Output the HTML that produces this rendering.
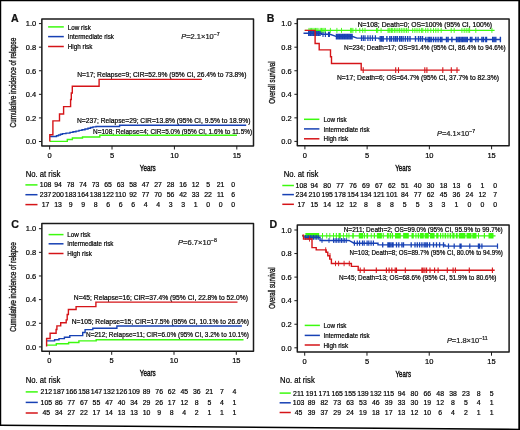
<!DOCTYPE html>
<html><head><meta charset="utf-8"><title>Figure</title>
<style>html,body{margin:0;padding:0;background:#fff;width:520px;height:430px;overflow:hidden}
svg{display:block;font-family:"Liberation Sans",sans-serif}
text{stroke:#222;stroke-width:0.22px;paint-order:stroke}</style></head>
<body>
<svg style="will-change:transform" width="520" height="430" viewBox="0 0 520 430" font-family="Liberation Sans, sans-serif">
<rect width="520" height="430" fill="#fff"/>
<text x="10.9" y="22" font-size="10.6" font-weight="bold" fill="#111">A</text>
<rect x="41.85" y="18.9" width="211.65" height="127" fill="none" stroke="#1a1a1a" stroke-width="1.5" stroke-linejoin="round"/>
<line x1="38.95" y1="141.5" x2="41.85" y2="141.5" stroke="#1a1a1a" stroke-width="1"/>
<text x="36.25" y="144.25" font-size="7.5" text-anchor="end" textLength="10.4" lengthAdjust="spacingAndGlyphs">0.0</text>
<line x1="38.95" y1="117.92" x2="41.85" y2="117.92" stroke="#1a1a1a" stroke-width="1"/>
<text x="36.25" y="120.67" font-size="7.5" text-anchor="end" textLength="10.4" lengthAdjust="spacingAndGlyphs">0.2</text>
<line x1="38.95" y1="94.34" x2="41.85" y2="94.34" stroke="#1a1a1a" stroke-width="1"/>
<text x="36.25" y="97.09" font-size="7.5" text-anchor="end" textLength="10.4" lengthAdjust="spacingAndGlyphs">0.4</text>
<line x1="38.95" y1="70.76" x2="41.85" y2="70.76" stroke="#1a1a1a" stroke-width="1"/>
<text x="36.25" y="73.51" font-size="7.5" text-anchor="end" textLength="10.4" lengthAdjust="spacingAndGlyphs">0.6</text>
<line x1="38.95" y1="47.18" x2="41.85" y2="47.18" stroke="#1a1a1a" stroke-width="1"/>
<text x="36.25" y="49.93" font-size="7.5" text-anchor="end" textLength="10.4" lengthAdjust="spacingAndGlyphs">0.8</text>
<line x1="38.95" y1="23.6" x2="41.85" y2="23.6" stroke="#1a1a1a" stroke-width="1"/>
<text x="36.25" y="26.35" font-size="7.5" text-anchor="end" textLength="10.4" lengthAdjust="spacingAndGlyphs">1.0</text>
<line x1="49.65" y1="145.9" x2="49.65" y2="149.5" stroke="#1a1a1a" stroke-width="1"/>
<text x="49.65" y="158" font-size="7.5" text-anchor="middle">0</text>
<line x1="112.03" y1="145.9" x2="112.03" y2="149.5" stroke="#1a1a1a" stroke-width="1"/>
<text x="112.03" y="158" font-size="7.5" text-anchor="middle">5</text>
<line x1="174.42" y1="145.9" x2="174.42" y2="149.5" stroke="#1a1a1a" stroke-width="1"/>
<text x="174.42" y="158" font-size="7.5" text-anchor="middle">10</text>
<line x1="236.8" y1="145.9" x2="236.8" y2="149.5" stroke="#1a1a1a" stroke-width="1"/>
<text x="236.8" y="158" font-size="7.5" text-anchor="middle">15</text>
<text transform="translate(16.2 82.6) rotate(-90)" font-size="8.3" text-anchor="middle" textLength="89.6" lengthAdjust="spacingAndGlyphs" fill="#222" style="stroke-width:0.4px">Cumulative incidence of relapse</text>
<text x="139.8" y="170.6" font-size="9.3" textLength="16" lengthAdjust="spacingAndGlyphs" style="stroke-width:0.4px">Years</text>
<line x1="48.1" y1="26.9" x2="63.8" y2="26.9" stroke="#3cfa0e" stroke-width="1.5"/>
<text x="67.8" y="29.5" font-size="6.6" textLength="23" lengthAdjust="spacingAndGlyphs">Low risk</text>
<line x1="48.1" y1="36.6" x2="63.8" y2="36.6" stroke="#1741b4" stroke-width="1.5"/>
<text x="67.8" y="39.2" font-size="6.6" textLength="46.1" lengthAdjust="spacingAndGlyphs">Intermediate risk</text>
<line x1="48.1" y1="46.5" x2="63.8" y2="46.5" stroke="#d51418" stroke-width="1.5"/>
<text x="67.8" y="49.1" font-size="6.6" textLength="24.6" lengthAdjust="spacingAndGlyphs">High risk</text>
<text x="181.2" y="39.3" font-size="6.9" fill="#222" textLength="38.5" lengthAdjust="spacingAndGlyphs"><tspan font-style="italic">P</tspan>=2.1×10<tspan font-size="4.8" dy="-2.9">−7</tspan></text>
<text x="77.2" y="76.5" font-size="6.6" textLength="169.3" lengthAdjust="spacingAndGlyphs">N=17; Relapse=9; CIR=52.9% (95% CI, 26.4% to 73.8%)</text>
<text x="77" y="122.8" font-size="6.6" textLength="173.5" lengthAdjust="spacingAndGlyphs">N=237; Relapse=29; CIR=13.8% (95% CI, 9.5% to 18.9%)</text>
<text x="93.1" y="133.5" font-size="6.6" textLength="159" lengthAdjust="spacingAndGlyphs">N=108; Relapse=4; CIR=5.0% (95% CI, 1.6% to 11.5%)</text>
<text x="25.65" y="176.8" font-size="8.2" textLength="34.7" lengthAdjust="spacingAndGlyphs">No. at risk</text>
<line x1="25.4" y1="184.9" x2="37.5" y2="184.9" stroke="#3cfa0e" stroke-width="1.5"/>
<text x="45.55" y="187.3" font-size="6.9" text-anchor="middle">108</text>
<text x="58.05" y="187.3" font-size="6.9" text-anchor="middle">94</text>
<text x="70.55" y="187.3" font-size="6.9" text-anchor="middle">78</text>
<text x="83.05" y="187.3" font-size="6.9" text-anchor="middle">74</text>
<text x="95.55" y="187.3" font-size="6.9" text-anchor="middle">73</text>
<text x="108.05" y="187.3" font-size="6.9" text-anchor="middle">65</text>
<text x="120.55" y="187.3" font-size="6.9" text-anchor="middle">63</text>
<text x="133.05" y="187.3" font-size="6.9" text-anchor="middle">58</text>
<text x="145.55" y="187.3" font-size="6.9" text-anchor="middle">47</text>
<text x="158.05" y="187.3" font-size="6.9" text-anchor="middle">27</text>
<text x="170.55" y="187.3" font-size="6.9" text-anchor="middle">28</text>
<text x="183.05" y="187.3" font-size="6.9" text-anchor="middle">16</text>
<text x="195.55" y="187.3" font-size="6.9" text-anchor="middle">12</text>
<text x="208.05" y="187.3" font-size="6.9" text-anchor="middle">5</text>
<text x="220.55" y="187.3" font-size="6.9" text-anchor="middle">21</text>
<text x="233.05" y="187.3" font-size="6.9" text-anchor="middle">0</text>
<line x1="25.4" y1="194.7" x2="37.5" y2="194.7" stroke="#1741b4" stroke-width="1.5"/>
<text x="45.55" y="197.1" font-size="6.9" text-anchor="middle">237</text>
<text x="58.05" y="197.1" font-size="6.9" text-anchor="middle">200</text>
<text x="70.55" y="197.1" font-size="6.9" text-anchor="middle">183</text>
<text x="83.05" y="197.1" font-size="6.9" text-anchor="middle">164</text>
<text x="95.55" y="197.1" font-size="6.9" text-anchor="middle">138</text>
<text x="108.05" y="197.1" font-size="6.9" text-anchor="middle">122</text>
<text x="120.55" y="197.1" font-size="6.9" text-anchor="middle">110</text>
<text x="133.05" y="197.1" font-size="6.9" text-anchor="middle">92</text>
<text x="145.55" y="197.1" font-size="6.9" text-anchor="middle">77</text>
<text x="158.05" y="197.1" font-size="6.9" text-anchor="middle">70</text>
<text x="170.55" y="197.1" font-size="6.9" text-anchor="middle">56</text>
<text x="183.05" y="197.1" font-size="6.9" text-anchor="middle">42</text>
<text x="195.55" y="197.1" font-size="6.9" text-anchor="middle">33</text>
<text x="208.05" y="197.1" font-size="6.9" text-anchor="middle">22</text>
<text x="220.55" y="197.1" font-size="6.9" text-anchor="middle">11</text>
<text x="233.05" y="197.1" font-size="6.9" text-anchor="middle">6</text>
<line x1="25.4" y1="204.6" x2="37.5" y2="204.6" stroke="#d51418" stroke-width="1.5"/>
<text x="45.55" y="207" font-size="6.9" text-anchor="middle">17</text>
<text x="58.05" y="207" font-size="6.9" text-anchor="middle">13</text>
<text x="70.55" y="207" font-size="6.9" text-anchor="middle">9</text>
<text x="83.05" y="207" font-size="6.9" text-anchor="middle">9</text>
<text x="95.55" y="207" font-size="6.9" text-anchor="middle">8</text>
<text x="108.05" y="207" font-size="6.9" text-anchor="middle">6</text>
<text x="120.55" y="207" font-size="6.9" text-anchor="middle">6</text>
<text x="133.05" y="207" font-size="6.9" text-anchor="middle">6</text>
<text x="145.55" y="207" font-size="6.9" text-anchor="middle">4</text>
<text x="158.05" y="207" font-size="6.9" text-anchor="middle">4</text>
<text x="170.55" y="207" font-size="6.9" text-anchor="middle">3</text>
<text x="183.05" y="207" font-size="6.9" text-anchor="middle">3</text>
<text x="195.55" y="207" font-size="6.9" text-anchor="middle">1</text>
<text x="208.05" y="207" font-size="6.9" text-anchor="middle">0</text>
<text x="220.55" y="207" font-size="6.9" text-anchor="middle">0</text>
<text x="233.05" y="207" font-size="6.9" text-anchor="middle">0</text>
<path d="M49.8 141.4H67.3V139.5H72.4V138H82.5V137H99.8V135.3H237" fill="none" stroke="#3cfa0e" stroke-width="1.4"/>
<path d="M49.8 136.5H56.5V135.8H58.5V135H60.5V134.2H62.5V133.6H66V133.1H70V132.4H73V131.8H76V131.1H79V130.4H82V129.7H85V129H88V128.2H90.5V127.5H93V126.9H96V126.5H119.6V125.2H246.2" fill="none" stroke="#1741b4" stroke-width="1.4"/>
<path d="M49.8 141.5V134.7H52.9V120.9H59.5V114H63.6V106.6H70.6V99.5H71.3V93H72.3V86.3H99.1V79.4H201.9" fill="none" stroke="#d51418" stroke-width="1.4"/>
<text x="266.8" y="22" font-size="10.6" font-weight="bold" fill="#111">B</text>
<rect x="297.3" y="18.9" width="211.8" height="126.8" fill="none" stroke="#1a1a1a" stroke-width="1.5" stroke-linejoin="round"/>
<line x1="294.4" y1="141.4" x2="297.3" y2="141.4" stroke="#1a1a1a" stroke-width="1"/>
<text x="291.7" y="144.15" font-size="7.5" text-anchor="end" textLength="10.4" lengthAdjust="spacingAndGlyphs">0.0</text>
<line x1="294.4" y1="117.85" x2="297.3" y2="117.85" stroke="#1a1a1a" stroke-width="1"/>
<text x="291.7" y="120.6" font-size="7.5" text-anchor="end" textLength="10.4" lengthAdjust="spacingAndGlyphs">0.2</text>
<line x1="294.4" y1="94.3" x2="297.3" y2="94.3" stroke="#1a1a1a" stroke-width="1"/>
<text x="291.7" y="97.05" font-size="7.5" text-anchor="end" textLength="10.4" lengthAdjust="spacingAndGlyphs">0.4</text>
<line x1="294.4" y1="70.75" x2="297.3" y2="70.75" stroke="#1a1a1a" stroke-width="1"/>
<text x="291.7" y="73.5" font-size="7.5" text-anchor="end" textLength="10.4" lengthAdjust="spacingAndGlyphs">0.6</text>
<line x1="294.4" y1="47.2" x2="297.3" y2="47.2" stroke="#1a1a1a" stroke-width="1"/>
<text x="291.7" y="49.95" font-size="7.5" text-anchor="end" textLength="10.4" lengthAdjust="spacingAndGlyphs">0.8</text>
<line x1="294.4" y1="23.65" x2="297.3" y2="23.65" stroke="#1a1a1a" stroke-width="1"/>
<text x="291.7" y="26.4" font-size="7.5" text-anchor="end" textLength="10.4" lengthAdjust="spacingAndGlyphs">1.0</text>
<line x1="304.9" y1="145.7" x2="304.9" y2="149.3" stroke="#1a1a1a" stroke-width="1"/>
<text x="304.9" y="158" font-size="7.5" text-anchor="middle">0</text>
<line x1="367.13" y1="145.7" x2="367.13" y2="149.3" stroke="#1a1a1a" stroke-width="1"/>
<text x="367.13" y="158" font-size="7.5" text-anchor="middle">5</text>
<line x1="429.37" y1="145.7" x2="429.37" y2="149.3" stroke="#1a1a1a" stroke-width="1"/>
<text x="429.37" y="158" font-size="7.5" text-anchor="middle">10</text>
<line x1="491.6" y1="145.7" x2="491.6" y2="149.3" stroke="#1a1a1a" stroke-width="1"/>
<text x="491.6" y="158" font-size="7.5" text-anchor="middle">15</text>
<text transform="translate(274.6 82.6) rotate(-90)" font-size="8.3" text-anchor="middle" textLength="42.4" lengthAdjust="spacingAndGlyphs" fill="#222" style="stroke-width:0.4px">Overall survival</text>
<text x="395.3" y="170.8" font-size="9.3" textLength="15.6" lengthAdjust="spacingAndGlyphs" style="stroke-width:0.4px">Years</text>
<line x1="304" y1="119.3" x2="319.4" y2="119.3" stroke="#3cfa0e" stroke-width="1.5"/>
<text x="323.6" y="121.9" font-size="6.6" textLength="23" lengthAdjust="spacingAndGlyphs">Low risk</text>
<line x1="304" y1="128.9" x2="319.4" y2="128.9" stroke="#1741b4" stroke-width="1.5"/>
<text x="323.6" y="131.5" font-size="6.6" textLength="46.1" lengthAdjust="spacingAndGlyphs">Intermediate risk</text>
<line x1="304" y1="138.8" x2="319.4" y2="138.8" stroke="#d51418" stroke-width="1.5"/>
<text x="323.6" y="141.4" font-size="6.6" textLength="24.6" lengthAdjust="spacingAndGlyphs">High risk</text>
<text x="436.9" y="135.8" font-size="6.9" fill="#222" textLength="38.2" lengthAdjust="spacingAndGlyphs"><tspan font-style="italic">P</tspan>=4.1×10<tspan font-size="4.8" dy="-2.9">−7</tspan></text>
<text x="357.7" y="27.1" font-size="6.6" textLength="134.4" lengthAdjust="spacingAndGlyphs">N=108; Death=0; OS=100% (95% CI, 100%)</text>
<text x="344.1" y="49.9" font-size="6.6" textLength="161.5" lengthAdjust="spacingAndGlyphs">N=234; Death=17; OS=91.4% (95% CI, 86.4% to 94.6%)</text>
<text x="337" y="79.8" font-size="6.6" textLength="161.9" lengthAdjust="spacingAndGlyphs">N=17; Death=6; OS=64.7% (95% CI, 37.7% to 82.3%)</text>
<text x="283.7" y="176.8" font-size="8.2" textLength="34.7" lengthAdjust="spacingAndGlyphs">No. at risk</text>
<line x1="282.3" y1="185.5" x2="293.9" y2="185.5" stroke="#3cfa0e" stroke-width="1.5"/>
<text x="301.3" y="187.9" font-size="6.9" text-anchor="middle">108</text>
<text x="314.23" y="187.9" font-size="6.9" text-anchor="middle">94</text>
<text x="327.16" y="187.9" font-size="6.9" text-anchor="middle">80</text>
<text x="340.09" y="187.9" font-size="6.9" text-anchor="middle">77</text>
<text x="353.02" y="187.9" font-size="6.9" text-anchor="middle">76</text>
<text x="365.95" y="187.9" font-size="6.9" text-anchor="middle">69</text>
<text x="378.88" y="187.9" font-size="6.9" text-anchor="middle">67</text>
<text x="391.81" y="187.9" font-size="6.9" text-anchor="middle">62</text>
<text x="404.74" y="187.9" font-size="6.9" text-anchor="middle">51</text>
<text x="417.67" y="187.9" font-size="6.9" text-anchor="middle">40</text>
<text x="430.6" y="187.9" font-size="6.9" text-anchor="middle">30</text>
<text x="443.53" y="187.9" font-size="6.9" text-anchor="middle">18</text>
<text x="456.46" y="187.9" font-size="6.9" text-anchor="middle">13</text>
<text x="469.39" y="187.9" font-size="6.9" text-anchor="middle">6</text>
<text x="482.32" y="187.9" font-size="6.9" text-anchor="middle">1</text>
<text x="495.25" y="187.9" font-size="6.9" text-anchor="middle">0</text>
<line x1="282.3" y1="194.6" x2="293.9" y2="194.6" stroke="#1741b4" stroke-width="1.5"/>
<text x="301.3" y="197" font-size="6.9" text-anchor="middle">234</text>
<text x="314.23" y="197" font-size="6.9" text-anchor="middle">210</text>
<text x="327.16" y="197" font-size="6.9" text-anchor="middle">195</text>
<text x="340.09" y="197" font-size="6.9" text-anchor="middle">178</text>
<text x="353.02" y="197" font-size="6.9" text-anchor="middle">154</text>
<text x="365.95" y="197" font-size="6.9" text-anchor="middle">134</text>
<text x="378.88" y="197" font-size="6.9" text-anchor="middle">121</text>
<text x="391.81" y="197" font-size="6.9" text-anchor="middle">101</text>
<text x="404.74" y="197" font-size="6.9" text-anchor="middle">84</text>
<text x="417.67" y="197" font-size="6.9" text-anchor="middle">77</text>
<text x="430.6" y="197" font-size="6.9" text-anchor="middle">62</text>
<text x="443.53" y="197" font-size="6.9" text-anchor="middle">45</text>
<text x="456.46" y="197" font-size="6.9" text-anchor="middle">36</text>
<text x="469.39" y="197" font-size="6.9" text-anchor="middle">24</text>
<text x="482.32" y="197" font-size="6.9" text-anchor="middle">12</text>
<text x="495.25" y="197" font-size="6.9" text-anchor="middle">7</text>
<line x1="282.3" y1="204.3" x2="293.9" y2="204.3" stroke="#d51418" stroke-width="1.5"/>
<text x="301.3" y="206.7" font-size="6.9" text-anchor="middle">17</text>
<text x="314.23" y="206.7" font-size="6.9" text-anchor="middle">15</text>
<text x="327.16" y="206.7" font-size="6.9" text-anchor="middle">14</text>
<text x="340.09" y="206.7" font-size="6.9" text-anchor="middle">12</text>
<text x="353.02" y="206.7" font-size="6.9" text-anchor="middle">12</text>
<text x="365.95" y="206.7" font-size="6.9" text-anchor="middle">8</text>
<text x="378.88" y="206.7" font-size="6.9" text-anchor="middle">8</text>
<text x="391.81" y="206.7" font-size="6.9" text-anchor="middle">8</text>
<text x="404.74" y="206.7" font-size="6.9" text-anchor="middle">5</text>
<text x="417.67" y="206.7" font-size="6.9" text-anchor="middle">5</text>
<text x="430.6" y="206.7" font-size="6.9" text-anchor="middle">3</text>
<text x="443.53" y="206.7" font-size="6.9" text-anchor="middle">3</text>
<text x="456.46" y="206.7" font-size="6.9" text-anchor="middle">1</text>
<text x="469.39" y="206.7" font-size="6.9" text-anchor="middle">0</text>
<text x="482.32" y="206.7" font-size="6.9" text-anchor="middle">0</text>
<text x="495.25" y="206.7" font-size="6.9" text-anchor="middle">0</text>
<path d="M304.8 30.4H494.6" fill="none" stroke="#3cfa0e" stroke-width="1.4"/>
<path d="M309 27.9V32.9M310.3 27.9V32.9M311.6 27.9V32.9M312.9 27.9V32.9M314.2 27.9V32.9M315.5 27.9V32.9M316.8 27.9V32.9M318 27.9V32.9M320.2 27.9V32.9M321.5 27.9V32.9M322.8 27.9V32.9M324.1 27.9V32.9M325.4 27.9V32.9M330.4 27.9V32.9M336.9 27.9V32.9M341.5 27.9V32.9M350.6 27.9V32.9M351.7 27.9V32.9M352.9 27.9V32.9M355.9 27.9V32.9M359.8 27.9V32.9M362.7 27.9V32.9M365 27.9V32.9M376.5 27.9V32.9M377.7 27.9V32.9M381.1 27.9V32.9M388 27.9V32.9M389 27.9V32.9M390 27.9V32.9M391.5 27.9V32.9M392.7 27.9V32.9M394.4 27.9V32.9M396 27.9V32.9M397.9 27.9V32.9M399.6 27.9V32.9M401.3 27.9V32.9M403.1 27.9V32.9M404.8 27.9V32.9M406.5 27.9V32.9M408.2 27.9V32.9M412.7 27.9V32.9M414.9 27.9V32.9M417 27.9V32.9M419.2 27.9V32.9M421.4 27.9V32.9M422.8 27.9V32.9M425.7 27.9V32.9M427.9 27.9V32.9M430.8 27.9V32.9M433.5 27.9V32.9M435.8 27.9V32.9M438.1 27.9V32.9M441.2 27.9V32.9M451.2 27.9V32.9M454.2 27.9V32.9M461.9 27.9V32.9M464.2 27.9V32.9M466.2 27.9V32.9M468.1 27.9V32.9M469.6 27.9V32.9M475.8 27.9V32.9M491.9 27.9V32.9" stroke="#3cfa0e" stroke-width="0.9" fill="none"/>
<path d="M303.5 33.3H321.5V34.3H330L336 36.3H352L357 38.1H379V38.9H425V39.5H500" fill="none" stroke="#1741b4" stroke-width="1.4"/>
<path d="M308.8 30.9V36.1M310.4 30.9V36.1M312 30.9V36.1M313.6 30.9V36.1M315.2 30.9V36.1M316.8 30.9V36.1M318.4 30.9V36.1M320 30.9V36.1" stroke="#1741b4" stroke-width="1.5" fill="none"/>
<path d="M323 31.7V36.9M325.4 31.7V36.9M328.5 31.7V36.9M329.4 31.7V36.9" stroke="#1741b4" stroke-width="1.1" fill="none"/>
<path d="M336.5 33.8V39.4M338.05 33.8V39.4M339.6 33.8V39.4M341.15 33.8V39.4M342.7 33.8V39.4M344.25 33.8V39.4M345.8 33.8V39.4M347.35 33.8V39.4M348.9 33.8V39.4M350.45 33.8V39.4M352 33.8V39.4" stroke="#1741b4" stroke-width="1.5" fill="none"/>
<path d="M361.5 35.3V40.9M363.3 35.3V40.9M365 35.3V40.9M367.9 35.3V40.9M370.2 35.3V40.9M372.5 35.3V40.9M375.4 35.3V40.9" stroke="#1741b4" stroke-width="1.2" fill="none"/>
<path d="M380.2 36.1V41.7M381.7 36.1V41.7M383.2 36.1V41.7M386.9 36.1V41.7M389.8 36.1V41.7M391.5 36.1V41.7M393.8 36.1V41.7M395.6 36.1V41.7M397.3 36.1V41.7M399.6 36.1V41.7M401.3 36.1V41.7M403.1 36.1V41.7M405.4 36.1V41.7M407.7 36.1V41.7M410 36.1V41.7M415.5 36.1V41.7M418.5 36.1V41.7M420.5 36.1V41.7M422.5 36.1V41.7" stroke="#1741b4" stroke-width="1.4" fill="none"/>
<path d="M425.8 36.7V42.3M428.1 36.7V42.3M429.6 36.7V42.3M431.2 36.7V42.3M433.5 36.7V42.3M435.8 36.7V42.3M438.1 36.7V42.3M440.4 36.7V42.3M441.9 36.7V42.3M446.5 36.7V42.3M448.1 36.7V42.3M451.9 36.7V42.3M456.5 36.7V42.3M458.1 36.7V42.3M459.6 36.7V42.3M461.2 36.7V42.3M462.7 36.7V42.3M464.2 36.7V42.3M465.8 36.7V42.3M467.3 36.7V42.3M470.4 36.7V42.3M471.9 36.7V42.3M475.8 36.7V42.3M478.1 36.7V42.3M481.9 36.7V42.3M483.5 36.7V42.3M485.8 36.7V42.3M486.5 36.7V42.3M492.7 36.7V42.3M494.2 36.7V42.3M495.8 36.7V42.3M500.4 36.7V42.3" stroke="#1741b4" stroke-width="1.4" fill="none"/>
<path d="M304.7 30.4H315.1V43.5H319.2V49.9H330.5V56.7H331.5V63.5H361.2V70.1H459.7" fill="none" stroke="#d51418" stroke-width="1.4"/>
<path d="M363.2 67.2V73M395.7 67.2V73M398.5 67.2V73M424.8 67.2V73M426.9 67.2V73M442.8 67.2V73M451.3 67.2V73M457 67.2V73" stroke="#d51418" stroke-width="1.1" fill="none"/>
<text x="11.3" y="228.1" font-size="10.6" font-weight="bold" fill="#111">C</text>
<rect x="41.85" y="223.4" width="211.65" height="127.8" fill="none" stroke="#1a1a1a" stroke-width="1.5" stroke-linejoin="round"/>
<line x1="38.95" y1="346.9" x2="41.85" y2="346.9" stroke="#1a1a1a" stroke-width="1"/>
<text x="36.25" y="349.65" font-size="7.5" text-anchor="end" textLength="10.4" lengthAdjust="spacingAndGlyphs">0.0</text>
<line x1="38.95" y1="323.26" x2="41.85" y2="323.26" stroke="#1a1a1a" stroke-width="1"/>
<text x="36.25" y="326.01" font-size="7.5" text-anchor="end" textLength="10.4" lengthAdjust="spacingAndGlyphs">0.2</text>
<line x1="38.95" y1="299.62" x2="41.85" y2="299.62" stroke="#1a1a1a" stroke-width="1"/>
<text x="36.25" y="302.37" font-size="7.5" text-anchor="end" textLength="10.4" lengthAdjust="spacingAndGlyphs">0.4</text>
<line x1="38.95" y1="275.98" x2="41.85" y2="275.98" stroke="#1a1a1a" stroke-width="1"/>
<text x="36.25" y="278.73" font-size="7.5" text-anchor="end" textLength="10.4" lengthAdjust="spacingAndGlyphs">0.6</text>
<line x1="38.95" y1="252.34" x2="41.85" y2="252.34" stroke="#1a1a1a" stroke-width="1"/>
<text x="36.25" y="255.09" font-size="7.5" text-anchor="end" textLength="10.4" lengthAdjust="spacingAndGlyphs">0.8</text>
<line x1="38.95" y1="228.7" x2="41.85" y2="228.7" stroke="#1a1a1a" stroke-width="1"/>
<text x="36.25" y="231.45" font-size="7.5" text-anchor="end" textLength="10.4" lengthAdjust="spacingAndGlyphs">1.0</text>
<line x1="49.4" y1="351.2" x2="49.4" y2="354.8" stroke="#1a1a1a" stroke-width="1"/>
<text x="49.4" y="363.3" font-size="7.5" text-anchor="middle">0</text>
<line x1="111.7" y1="351.2" x2="111.7" y2="354.8" stroke="#1a1a1a" stroke-width="1"/>
<text x="111.7" y="363.3" font-size="7.5" text-anchor="middle">5</text>
<line x1="174" y1="351.2" x2="174" y2="354.8" stroke="#1a1a1a" stroke-width="1"/>
<text x="174" y="363.3" font-size="7.5" text-anchor="middle">10</text>
<line x1="236.3" y1="351.2" x2="236.3" y2="354.8" stroke="#1a1a1a" stroke-width="1"/>
<text x="236.3" y="363.3" font-size="7.5" text-anchor="middle">15</text>
<text transform="translate(16.1 287) rotate(-90)" font-size="8.3" text-anchor="middle" textLength="89.6" lengthAdjust="spacingAndGlyphs" fill="#222" style="stroke-width:0.4px">Cumulative incidence of relapse</text>
<text x="139.8" y="376" font-size="9.3" textLength="16" lengthAdjust="spacingAndGlyphs" style="stroke-width:0.4px">Years</text>
<line x1="48.6" y1="234.6" x2="63.5" y2="234.6" stroke="#3cfa0e" stroke-width="1.5"/>
<text x="67.3" y="237.2" font-size="6.6" textLength="23" lengthAdjust="spacingAndGlyphs">Low risk</text>
<line x1="48.6" y1="243.8" x2="63.5" y2="243.8" stroke="#1741b4" stroke-width="1.5"/>
<text x="67.3" y="246.4" font-size="6.6" textLength="46.1" lengthAdjust="spacingAndGlyphs">Intermediate risk</text>
<line x1="48.6" y1="253.5" x2="63.5" y2="253.5" stroke="#d51418" stroke-width="1.5"/>
<text x="67.3" y="256.1" font-size="6.6" textLength="24.6" lengthAdjust="spacingAndGlyphs">High risk</text>
<text x="178" y="245" font-size="6.9" fill="#222" textLength="38.9" lengthAdjust="spacingAndGlyphs"><tspan font-style="italic">P</tspan>=6.7×10<tspan font-size="4.8" dy="-2.9">−8</tspan></text>
<text x="73.8" y="299.6" font-size="6.6" textLength="174.1" lengthAdjust="spacingAndGlyphs">N=45; Relapse=16; CIR=37.4% (95% CI, 22.8% to 52.0%)</text>
<text x="71.7" y="323.7" font-size="6.6" textLength="177.3" lengthAdjust="spacingAndGlyphs">N=105; Relapse=15; CIR=17.5% (95% CI, 10.1% to 26.6%)</text>
<text x="86.1" y="337.4" font-size="6.6" textLength="162.9" lengthAdjust="spacingAndGlyphs">N=212; Relapse=11; CIR=6.0% (95% CI, 3.2% to 10.1%)</text>
<text x="25.7" y="382.9" font-size="8.2" textLength="34.7" lengthAdjust="spacingAndGlyphs">No. at risk</text>
<line x1="25.7" y1="391.9" x2="37.8" y2="391.9" stroke="#3cfa0e" stroke-width="1.5"/>
<text x="46.3" y="394.3" font-size="6.9" text-anchor="middle">212</text>
<text x="58.84" y="394.3" font-size="6.9" text-anchor="middle">187</text>
<text x="71.38" y="394.3" font-size="6.9" text-anchor="middle">166</text>
<text x="83.92" y="394.3" font-size="6.9" text-anchor="middle">158</text>
<text x="96.46" y="394.3" font-size="6.9" text-anchor="middle">147</text>
<text x="109" y="394.3" font-size="6.9" text-anchor="middle">132</text>
<text x="121.54" y="394.3" font-size="6.9" text-anchor="middle">126</text>
<text x="134.08" y="394.3" font-size="6.9" text-anchor="middle">109</text>
<text x="146.62" y="394.3" font-size="6.9" text-anchor="middle">89</text>
<text x="159.16" y="394.3" font-size="6.9" text-anchor="middle">76</text>
<text x="171.7" y="394.3" font-size="6.9" text-anchor="middle">62</text>
<text x="184.24" y="394.3" font-size="6.9" text-anchor="middle">45</text>
<text x="196.78" y="394.3" font-size="6.9" text-anchor="middle">36</text>
<text x="209.32" y="394.3" font-size="6.9" text-anchor="middle">21</text>
<text x="221.86" y="394.3" font-size="6.9" text-anchor="middle">7</text>
<text x="234.4" y="394.3" font-size="6.9" text-anchor="middle">4</text>
<line x1="25.7" y1="402.4" x2="37.8" y2="402.4" stroke="#1741b4" stroke-width="1.5"/>
<text x="46.3" y="404.8" font-size="6.9" text-anchor="middle">105</text>
<text x="58.84" y="404.8" font-size="6.9" text-anchor="middle">86</text>
<text x="71.38" y="404.8" font-size="6.9" text-anchor="middle">77</text>
<text x="83.92" y="404.8" font-size="6.9" text-anchor="middle">67</text>
<text x="96.46" y="404.8" font-size="6.9" text-anchor="middle">55</text>
<text x="109" y="404.8" font-size="6.9" text-anchor="middle">47</text>
<text x="121.54" y="404.8" font-size="6.9" text-anchor="middle">40</text>
<text x="134.08" y="404.8" font-size="6.9" text-anchor="middle">34</text>
<text x="146.62" y="404.8" font-size="6.9" text-anchor="middle">29</text>
<text x="159.16" y="404.8" font-size="6.9" text-anchor="middle">26</text>
<text x="171.7" y="404.8" font-size="6.9" text-anchor="middle">17</text>
<text x="184.24" y="404.8" font-size="6.9" text-anchor="middle">12</text>
<text x="196.78" y="404.8" font-size="6.9" text-anchor="middle">8</text>
<text x="209.32" y="404.8" font-size="6.9" text-anchor="middle">5</text>
<text x="221.86" y="404.8" font-size="6.9" text-anchor="middle">4</text>
<text x="234.4" y="404.8" font-size="6.9" text-anchor="middle">1</text>
<line x1="25.7" y1="413" x2="37.8" y2="413" stroke="#d51418" stroke-width="1.5"/>
<text x="46.3" y="415.4" font-size="6.9" text-anchor="middle">45</text>
<text x="58.84" y="415.4" font-size="6.9" text-anchor="middle">34</text>
<text x="71.38" y="415.4" font-size="6.9" text-anchor="middle">27</text>
<text x="83.92" y="415.4" font-size="6.9" text-anchor="middle">22</text>
<text x="96.46" y="415.4" font-size="6.9" text-anchor="middle">17</text>
<text x="109" y="415.4" font-size="6.9" text-anchor="middle">14</text>
<text x="121.54" y="415.4" font-size="6.9" text-anchor="middle">13</text>
<text x="134.08" y="415.4" font-size="6.9" text-anchor="middle">13</text>
<text x="146.62" y="415.4" font-size="6.9" text-anchor="middle">10</text>
<text x="159.16" y="415.4" font-size="6.9" text-anchor="middle">9</text>
<text x="171.7" y="415.4" font-size="6.9" text-anchor="middle">8</text>
<text x="184.24" y="415.4" font-size="6.9" text-anchor="middle">4</text>
<text x="196.78" y="415.4" font-size="6.9" text-anchor="middle">2</text>
<text x="209.32" y="415.4" font-size="6.9" text-anchor="middle">1</text>
<text x="221.86" y="415.4" font-size="6.9" text-anchor="middle">1</text>
<text x="234.4" y="415.4" font-size="6.9" text-anchor="middle">1</text>
<path d="M46.6 345.1H56.3V343.8H68.6V342.5H78.9V340.9H96.2V339.7H243.5" fill="none" stroke="#3cfa0e" stroke-width="1.4"/>
<path d="M46.6 340.9H54.6V339.8H59V338.6H64.4V337.3H69.8V335.6H82.7V332.5H85.1V329.6H92.8V328.2H116.9V326H241.9" fill="none" stroke="#1741b4" stroke-width="1.4"/>
<path d="M46.6 346.6V338.5H50.1V333.3H56.1V329.5H56.9V325.9H60.7V322.7H66.2V319.9H67.2V314.5H68.4V309.5H76.1V306.6H95.9V302.1H237.5" fill="none" stroke="#d51418" stroke-width="1.4"/>
<text x="269.5" y="228.1" font-size="10.6" font-weight="bold" fill="#111">D</text>
<rect x="297.3" y="225" width="211.8" height="127.1" fill="none" stroke="#1a1a1a" stroke-width="1.5" stroke-linejoin="round"/>
<line x1="294.4" y1="347.8" x2="297.3" y2="347.8" stroke="#1a1a1a" stroke-width="1"/>
<text x="291.7" y="350.55" font-size="7.5" text-anchor="end" textLength="10.4" lengthAdjust="spacingAndGlyphs">0.0</text>
<line x1="294.4" y1="324.24" x2="297.3" y2="324.24" stroke="#1a1a1a" stroke-width="1"/>
<text x="291.7" y="326.99" font-size="7.5" text-anchor="end" textLength="10.4" lengthAdjust="spacingAndGlyphs">0.2</text>
<line x1="294.4" y1="300.68" x2="297.3" y2="300.68" stroke="#1a1a1a" stroke-width="1"/>
<text x="291.7" y="303.43" font-size="7.5" text-anchor="end" textLength="10.4" lengthAdjust="spacingAndGlyphs">0.4</text>
<line x1="294.4" y1="277.12" x2="297.3" y2="277.12" stroke="#1a1a1a" stroke-width="1"/>
<text x="291.7" y="279.87" font-size="7.5" text-anchor="end" textLength="10.4" lengthAdjust="spacingAndGlyphs">0.6</text>
<line x1="294.4" y1="253.56" x2="297.3" y2="253.56" stroke="#1a1a1a" stroke-width="1"/>
<text x="291.7" y="256.31" font-size="7.5" text-anchor="end" textLength="10.4" lengthAdjust="spacingAndGlyphs">0.8</text>
<line x1="294.4" y1="230" x2="297.3" y2="230" stroke="#1a1a1a" stroke-width="1"/>
<text x="291.7" y="232.75" font-size="7.5" text-anchor="end" textLength="10.4" lengthAdjust="spacingAndGlyphs">1.0</text>
<line x1="304.7" y1="352.1" x2="304.7" y2="355.7" stroke="#1a1a1a" stroke-width="1"/>
<text x="304.7" y="363.9" font-size="7.5" text-anchor="middle">0</text>
<line x1="366.97" y1="352.1" x2="366.97" y2="355.7" stroke="#1a1a1a" stroke-width="1"/>
<text x="366.97" y="363.9" font-size="7.5" text-anchor="middle">5</text>
<line x1="429.23" y1="352.1" x2="429.23" y2="355.7" stroke="#1a1a1a" stroke-width="1"/>
<text x="429.23" y="363.9" font-size="7.5" text-anchor="middle">10</text>
<line x1="491.5" y1="352.1" x2="491.5" y2="355.7" stroke="#1a1a1a" stroke-width="1"/>
<text x="491.5" y="363.9" font-size="7.5" text-anchor="middle">15</text>
<text transform="translate(274.6 288.1) rotate(-90)" font-size="8.3" text-anchor="middle" textLength="41.4" lengthAdjust="spacingAndGlyphs" fill="#222" style="stroke-width:0.4px">Overall survival</text>
<text x="395.6" y="377" font-size="9.3" textLength="15.4" lengthAdjust="spacingAndGlyphs" style="stroke-width:0.4px">Years</text>
<line x1="304.7" y1="325.4" x2="319.9" y2="325.4" stroke="#3cfa0e" stroke-width="1.5"/>
<text x="323.5" y="328" font-size="6.6" textLength="23" lengthAdjust="spacingAndGlyphs">Low risk</text>
<line x1="304.7" y1="335.4" x2="319.9" y2="335.4" stroke="#1741b4" stroke-width="1.5"/>
<text x="323.5" y="338" font-size="6.6" textLength="46.1" lengthAdjust="spacingAndGlyphs">Intermediate risk</text>
<line x1="304.7" y1="345" x2="319.9" y2="345" stroke="#d51418" stroke-width="1.5"/>
<text x="323.5" y="347.6" font-size="6.6" textLength="24.6" lengthAdjust="spacingAndGlyphs">High risk</text>
<text x="446.9" y="343.1" font-size="6.9" fill="#222" textLength="40.8" lengthAdjust="spacingAndGlyphs"><tspan font-style="italic">P</tspan>=1.8×10<tspan font-size="4.8" dy="-2.9">−11</tspan></text>
<text x="343.7" y="231.7" font-size="6.6" textLength="159.1" lengthAdjust="spacingAndGlyphs">N=211; Death=2; OS=99.0% (95% CI, 95.9% to 99.7%)</text>
<text x="349.6" y="255" font-size="6.6" textLength="153.2" lengthAdjust="spacingAndGlyphs">N=103; Death=8; OS=89.7% (95% CI, 80.0% to 94.9%)</text>
<text x="339" y="280.1" font-size="6.6" textLength="157.5" lengthAdjust="spacingAndGlyphs">N=45; Death=13; OS=68.6% (95% CI, 51.9% to 80.6%)</text>
<text x="280.1" y="383.2" font-size="8.2" textLength="34.7" lengthAdjust="spacingAndGlyphs">No. at risk</text>
<line x1="279.6" y1="393.1" x2="290.8" y2="393.1" stroke="#3cfa0e" stroke-width="1.5"/>
<text x="298.6" y="395.5" font-size="6.9" text-anchor="middle">211</text>
<text x="311.47" y="395.5" font-size="6.9" text-anchor="middle">191</text>
<text x="324.34" y="395.5" font-size="6.9" text-anchor="middle">171</text>
<text x="337.21" y="395.5" font-size="6.9" text-anchor="middle">165</text>
<text x="350.08" y="395.5" font-size="6.9" text-anchor="middle">155</text>
<text x="362.95" y="395.5" font-size="6.9" text-anchor="middle">139</text>
<text x="375.82" y="395.5" font-size="6.9" text-anchor="middle">132</text>
<text x="388.69" y="395.5" font-size="6.9" text-anchor="middle">115</text>
<text x="401.56" y="395.5" font-size="6.9" text-anchor="middle">94</text>
<text x="414.43" y="395.5" font-size="6.9" text-anchor="middle">80</text>
<text x="427.3" y="395.5" font-size="6.9" text-anchor="middle">66</text>
<text x="440.17" y="395.5" font-size="6.9" text-anchor="middle">48</text>
<text x="453.04" y="395.5" font-size="6.9" text-anchor="middle">38</text>
<text x="465.91" y="395.5" font-size="6.9" text-anchor="middle">23</text>
<text x="478.78" y="395.5" font-size="6.9" text-anchor="middle">8</text>
<text x="491.65" y="395.5" font-size="6.9" text-anchor="middle">5</text>
<line x1="279.6" y1="402.8" x2="290.8" y2="402.8" stroke="#1741b4" stroke-width="1.5"/>
<text x="298.6" y="405.2" font-size="6.9" text-anchor="middle">103</text>
<text x="311.47" y="405.2" font-size="6.9" text-anchor="middle">89</text>
<text x="324.34" y="405.2" font-size="6.9" text-anchor="middle">82</text>
<text x="337.21" y="405.2" font-size="6.9" text-anchor="middle">73</text>
<text x="350.08" y="405.2" font-size="6.9" text-anchor="middle">63</text>
<text x="362.95" y="405.2" font-size="6.9" text-anchor="middle">53</text>
<text x="375.82" y="405.2" font-size="6.9" text-anchor="middle">46</text>
<text x="388.69" y="405.2" font-size="6.9" text-anchor="middle">39</text>
<text x="401.56" y="405.2" font-size="6.9" text-anchor="middle">33</text>
<text x="414.43" y="405.2" font-size="6.9" text-anchor="middle">30</text>
<text x="427.3" y="405.2" font-size="6.9" text-anchor="middle">19</text>
<text x="440.17" y="405.2" font-size="6.9" text-anchor="middle">12</text>
<text x="453.04" y="405.2" font-size="6.9" text-anchor="middle">8</text>
<text x="465.91" y="405.2" font-size="6.9" text-anchor="middle">5</text>
<text x="478.78" y="405.2" font-size="6.9" text-anchor="middle">4</text>
<text x="491.65" y="405.2" font-size="6.9" text-anchor="middle">1</text>
<line x1="279.6" y1="412.5" x2="290.8" y2="412.5" stroke="#d51418" stroke-width="1.5"/>
<text x="298.6" y="414.9" font-size="6.9" text-anchor="middle">45</text>
<text x="311.47" y="414.9" font-size="6.9" text-anchor="middle">39</text>
<text x="324.34" y="414.9" font-size="6.9" text-anchor="middle">37</text>
<text x="337.21" y="414.9" font-size="6.9" text-anchor="middle">29</text>
<text x="350.08" y="414.9" font-size="6.9" text-anchor="middle">24</text>
<text x="362.95" y="414.9" font-size="6.9" text-anchor="middle">19</text>
<text x="375.82" y="414.9" font-size="6.9" text-anchor="middle">18</text>
<text x="388.69" y="414.9" font-size="6.9" text-anchor="middle">17</text>
<text x="401.56" y="414.9" font-size="6.9" text-anchor="middle">13</text>
<text x="414.43" y="414.9" font-size="6.9" text-anchor="middle">12</text>
<text x="427.3" y="414.9" font-size="6.9" text-anchor="middle">10</text>
<text x="440.17" y="414.9" font-size="6.9" text-anchor="middle">6</text>
<text x="453.04" y="414.9" font-size="6.9" text-anchor="middle">4</text>
<text x="465.91" y="414.9" font-size="6.9" text-anchor="middle">2</text>
<text x="478.78" y="414.9" font-size="6.9" text-anchor="middle">1</text>
<text x="491.65" y="414.9" font-size="6.9" text-anchor="middle">1</text>
<path d="M302.5 235.9H495.5" fill="none" stroke="#3cfa0e" stroke-width="1.4"/>
<path d="M305.4 233H319.2V238.6H305.4ZM322 233H323V238.6H322ZM326.3 233H327.2V238.6H326.3ZM329.4 233H330.3V238.6H329.4ZM333 233H334V238.6H333ZM335.8 233H336.9V238.6H335.8ZM338.5 233H340.8V238.6H338.5ZM343.1 233H344V238.6H343.1ZM346.2 233H347.3V238.6H346.2ZM348.5 233H349.4V238.6H348.5ZM352.3 233H353.8V238.6H352.3ZM358.8 233H363.1V238.6H358.8ZM363.8 233H365V238.6H363.8ZM366.5 233H368.1V238.6H366.5ZM370.8 233H371.7V238.6H370.8ZM373.8 233H375V238.6H373.8ZM376.9 233H381.9V238.6H376.9ZM382.7 233H383.8V238.6H382.7ZM386.9 233H388.8V238.6H386.9ZM389.6 233H391.2V238.6H389.6ZM391.9 233H393.1V238.6H391.9ZM395 233H400.8V238.6H395ZM403.1 233H408.8V238.6H403.1ZM411.5 233H413.8V238.6H411.5ZM415.4 233H416.5V238.6H415.4ZM417.7 233H419.2V238.6H417.7ZM420 233H423.8V238.6H420ZM424.6 233H428.8V238.6H424.6ZM430 233H434.6V238.6H430ZM436.2 233H438.5V238.6H436.2ZM440 233H441.2V238.6H440ZM442.3 233H443.5V238.6H442.3ZM444.6 233H446.2V238.6H444.6ZM447.3 233H448.5V238.6H447.3ZM449.6 233H451.2V238.6H449.6ZM452.3 233H454.6V238.6H452.3ZM455.8 233H457.7V238.6H455.8ZM458.8 233H465.4V238.6H458.8ZM466.5 233H471.5V238.6H466.5ZM472.3 233H476.5V238.6H472.3ZM478 233H479V238.6H478ZM483.8 233H485V238.6H483.8ZM488.5 233H493.5V238.6H488.5Z" fill="#3cfa0e"/>
<path d="M302.3 235.5L305 237.3H320V240.5H349L354 243.2H378V244.9H445V246.1H497.5" fill="none" stroke="#1741b4" stroke-width="1.4"/>
<path d="M305.5 234.9V239.7M307.1 234.9V239.7M308.7 234.9V239.7M310.3 234.9V239.7M311.9 234.9V239.7M313.5 234.9V239.7M315.1 234.9V239.7M316.7 234.9V239.7M318.3 234.9V239.7" stroke="#1741b4" stroke-width="1.1" fill="none"/>
<path d="M322 238.1V242.9M329 238.1V242.9M333.5 238.1V242.9M335.1 238.1V242.9M336.7 238.1V242.9M338.3 238.1V242.9M339.9 238.1V242.9M341.5 238.1V242.9M343.1 238.1V242.9M344.7 238.1V242.9M346.3 238.1V242.9" stroke="#1741b4" stroke-width="1" fill="none"/>
<path d="M354.4 240.6V245.8M357.3 240.6V245.8M359.6 240.6V245.8M362.5 240.6V245.8M364.2 240.6V245.8M367.1 240.6V245.8M368.8 240.6V245.8M371.1 240.6V245.8M373.4 240.6V245.8" stroke="#1741b4" stroke-width="1.2" fill="none"/>
<path d="M382.7 242.2V247.6M387.9 242.2V247.6M389 242.2V247.6M390.2 242.2V247.6M391.9 242.2V247.6M393.1 242.2V247.6M396.5 242.2V247.6M398.8 242.2V247.6M401.9 242.2V247.6M403.5 242.2V247.6M411.2 242.2V247.6M415 242.2V247.6M417.3 242.2V247.6M419.6 242.2V247.6M421.9 242.2V247.6M424.2 242.2V247.6M425.8 242.2V247.6M427.3 242.2V247.6M429.6 242.2V247.6M433.5 242.2V247.6M436.5 242.2V247.6M439.6 242.2V247.6M443.5 242.2V247.6" stroke="#1741b4" stroke-width="1.3" fill="none"/>
<path d="M448.5 243.4V248.8M454.2 243.4V248.8M460 243.4V248.8M461.1 243.4V248.8M469.8 243.4V248.8M478.4 243.4V248.8M479.6 243.4V248.8M481.9 243.4V248.8M497.5 243.4V248.8" stroke="#1741b4" stroke-width="1.2" fill="none"/>
<path d="M302.4 235.2H303.5V239H312V247.6H316.2V249.9H326.2V252.2H327.8V255.7H329.7V259.1H331.4V263.5H351.4V266.4H358.2V270.3H494.7" fill="none" stroke="#d51418" stroke-width="1.4"/>
<path d="M309.5 236.4V241.6" stroke="#d51418" stroke-width="0.9" fill="none"/>
<path d="M325.7 247.3V252.5" stroke="#d51418" stroke-width="0.9" fill="none"/>
<path d="M330 253.1V258.3" stroke="#d51418" stroke-width="0.9" fill="none"/>
<path d="M335.5 260.8V266.2M338.6 260.8V266.2M344.1 260.8V266.2M349.3 260.8V266.2" stroke="#d51418" stroke-width="0.9" fill="none"/>
<path d="M360.2 267.5V273.1M364.2 267.5V273.1M376.3 267.5V273.1M386.4 267.5V273.1M389.1 267.5V273.1M391.8 267.5V273.1M395.2 267.5V273.1M396.5 267.5V273.1M405.3 267.5V273.1M421.9 267.5V273.1M423.1 267.5V273.1M424.9 267.5V273.1M426.6 267.5V273.1M430 267.5V273.1M434.6 267.5V273.1M438.1 267.5V273.1M447.3 267.5V273.1M453.1 267.5V273.1M455.4 267.5V273.1M469.3 267.5V273.1M492.4 267.5V273.1" stroke="#d51418" stroke-width="1.1" fill="none"/>
<path d="M0.6 0V426" stroke="#000" stroke-width="1.25"/>
<path d="M0 0.6H520" stroke="#000" stroke-width="1.3"/>
<path d="M519.15 0V430" stroke="#000" stroke-width="1.7"/>
<path d="M0 425.3L520 429.4" stroke="#000" stroke-width="1.5"/>
</svg>
</body></html>
